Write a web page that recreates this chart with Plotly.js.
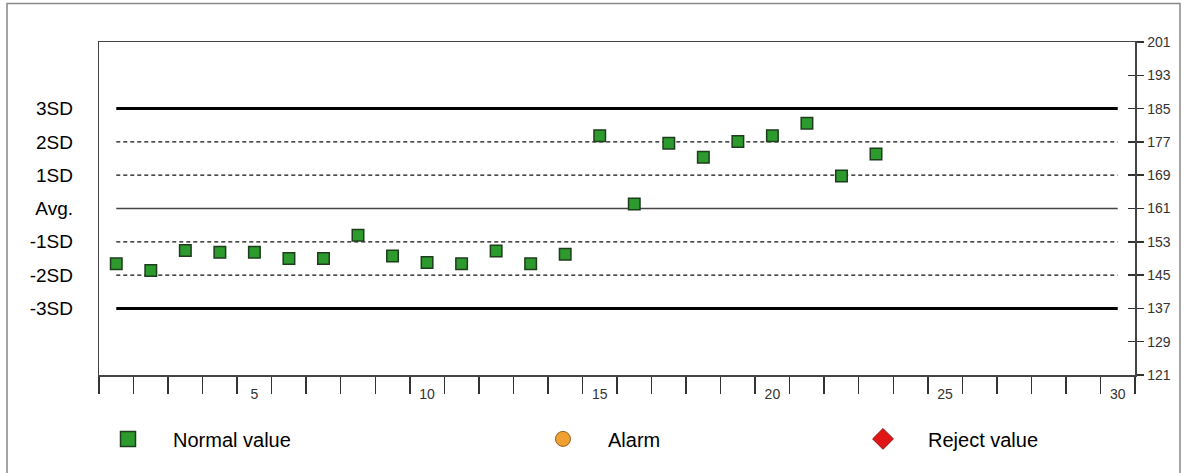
<!DOCTYPE html>
<html>
<head>
<meta charset="utf-8">
<script src="https://cdn.plot.ly/plotly-3.0.1.min.js"></script>
<style>html,body{margin:0;padding:0;background:#fff;}#chart{width:1186px;height:473px;}</style>
</head>
<body>
<div id="chart"></div>
<script>
// ---- data ----
const runs = [1,2,3,4,5,6,7,8,9,10,11,12,13,14,15,16,17,18,19,20,21,22,23];
const values = [147.7,146.1,150.9,150.5,150.5,149.0,149.0,154.6,149.6,148.0,147.7,150.8,147.7,150.0,
                178.5,162.1,176.7,173.3,177.1,178.5,181.5,168.8,174.1];
const sdLabels = ['3SD','2SD','1SD','Avg.','-1SD','-2SD','-3SD'];
const sdValues = [185,177,169,161,153,145,137];
const sdStyles = ['thick','dash','dash','solid','dash','dash','thick'];
const xTickVals = [5,10,15,20,25,30];
const xTickLabels = ['5','10','15','20','25','30'];
const xRange = [1,30];
const legendNames = ['Normal value','Alarm','Reject value'];

const FONT = 'Arial, "Liberation Sans", sans-serif';
const traces = [];

sdValues.forEach((v,i)=>{
  const st = sdStyles[i];
  traces.push({
    type:'scatter', mode:'lines', x:[xRange[0],xRange[1]], y:[v,v],
    line: st==='thick' ? {color:'#000', width:3} :
          st==='dash'  ? {color:'#111', width:1.3, dash:'4px,3px'} :
                         {color:'#444', width:1.5},
    hoverinfo:'skip', showlegend:false
  });
});

traces.push({
  type:'scatter', mode:'markers', x:runs, y:values, showlegend:false,
  marker:{symbol:'square', size:11.5, color:'#2c9a2c', line:{color:'#1d3d1d', width:1.5}}
});

// legend-only entries
const legMarkers = [
  {symbol:'square', size:15, color:'#2c9a2c', line:{color:'#1d3d1d', width:1.5}},
  {symbol:'circle', size:15, color:'#f0a030', line:{color:'#9a6020', width:1}},
  {symbol:'diamond', size:16, color:'#e01515', line:{color:'#901010', width:1}}
];
const legendIds = ['legend','legend2','legend3'];
legendNames.forEach((n,i)=>{
  traces.push({type:'scatter', mode:'markers', x:[null], y:[null], name:n,
    marker:legMarkers[i], legend:legendIds[i], showlegend:true});
});

// helper axes for ticks / labels
traces.push({type:'scatter', x:[null], y:[null], xaxis:'x2', yaxis:'y', showlegend:false, hoverinfo:'skip'});
traces.push({type:'scatter', x:[null], y:[null], xaxis:'x', yaxis:'y2', showlegend:false, hoverinfo:'skip'});
traces.push({type:'scatter', x:[null], y:[null], xaxis:'x', yaxis:'y3', showlegend:false, hoverinfo:'skip'});

const boundaries = [];
for (let k=0;k<=30;k++) boundaries.push(k+0.5);

const L=99, R=51, T=41.5, B=98;
const W=1186-L-R, H=473-T-B;
const px = x => (x-L)/W;
const py = y => (473-B-y)/H;

const legCommon = {orientation:'v', xanchor:'left', yanchor:'middle', itemwidth:80,
  font:{family:FONT, size:20, color:'#000'}, bgcolor:'rgba(0,0,0,0)', borderwidth:0, itemclick:false, itemdoubleclick:false};

const layout = {
  width:1186, height:473,
  margin:{l:L, r:R, t:T, b:B, pad:0},
  paper_bgcolor:'#fff', plot_bgcolor:'#fff',
  showlegend:true,
  xaxis:{range:[0.5,30.5], tickmode:'array', tickvals:boundaries, showticklabels:false,
    ticks:'outside', ticklen:17, tickwidth:1.5, tickcolor:'#333',
    showline:true, linecolor:'#444', linewidth:1.5, mirror:true,
    showgrid:false, zeroline:false, fixedrange:true},
  xaxis2:{overlaying:'x', range:[0.5,30.5], tickmode:'array', tickvals:xTickVals, ticktext:xTickLabels,
    ticks:'', ticklabelstandoff:9, showline:false, showgrid:false, zeroline:false,
    tickfont:{family:FONT, size:14, color:'#333'}, fixedrange:true},
  yaxis:{range:[121,201], side:'right', tickmode:'linear', tick0:121, dtick:8,
    ticks:'outside', ticklen:7, tickwidth:1.5, tickcolor:'#333',
    tickfont:{family:FONT, size:14, color:'#333'}, ticklabelstandoff:1,
    showline:true, linecolor:'#444', linewidth:1.5, mirror:true,
    showgrid:false, zeroline:false, fixedrange:true},
  yaxis2:{overlaying:'y', side:'left', range:[121,201], tickmode:'array', tickvals:sdValues, ticktext:sdLabels,
    ticks:'', ticklabelstandoff:25, showline:false, showgrid:false, zeroline:false,
    tickfont:{family:FONT, size:19, color:'#000'}, fixedrange:true},
  yaxis3:{overlaying:'y', side:'right', range:[121,201], tickmode:'linear', tick0:121, dtick:8,
    ticks:'inside', ticklen:7, tickwidth:1.5, tickcolor:'#333', showticklabels:false,
    showline:false, showgrid:false, zeroline:false, fixedrange:true},
  legend: Object.assign({}, legCommon, {x:px(128-45), y:py(439)}),
  legend2: Object.assign({}, legCommon, {x:px(563-45), y:py(439)}),
  legend3: Object.assign({}, legCommon, {x:px(883-45), y:py(439)}),
  shapes:[{type:'rect', xref:'paper', yref:'paper', x0:px(7), x1:px(1180), y0:py(480), y1:py(3),
    line:{color:'#888', width:1.5}, fillcolor:'rgba(0,0,0,0)', layer:'below'}]
};

Plotly.newPlot('chart', traces, layout, {displayModeBar:false, staticPlot:true});
</script>
</body>
</html>
